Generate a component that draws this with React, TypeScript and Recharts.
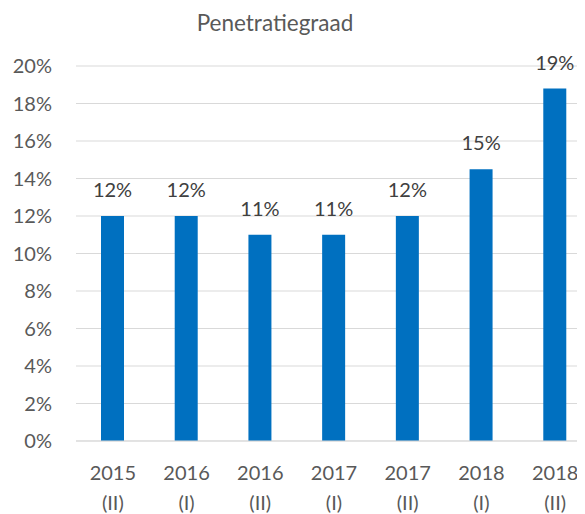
import { BarChart, Bar, XAxis, YAxis, CartesianGrid, LabelList } from 'recharts'

const years = ['2015', '2016', '2016', '2017', '2017', '2018', '2018']
const halves = ['(II)', '(I)', '(II)', '(I)', '(II)', '(I)', '(II)']
const penetration = [12, 12, 11, 11, 12, 14.5, 18.8]
const yTicks = [0, 2, 4, 6, 8, 10, 12, 14, 16, 18, 20]

const chartData = years.map((year, i) => ({
  name: `${year} ${halves[i]}`,
  year,
  half: halves[i],
  value: penetration[i],
}))

const font = 'Lato, "Open Sans", sans-serif'
const textColor = '#595959'

function TwoLineTick({ x, y, index }: any) {
  return (
    <text x={x} y={y} textAnchor="middle" fill={textColor} fontSize={20} fontFamily={font}>
      <tspan x={x} dy={37}>{years[index]}</tspan>
      <tspan x={x} dy={30}>{halves[index]}</tspan>
    </text>
  )
}

function TopLabel({ x, y, width, value }: any) {
  return (
    <text
      x={x + width / 2}
      y={y - 19}
      textAnchor="middle"
      fill="#404040"
      fontSize={20}
      fontFamily={font}
    >
      {Math.round(value)}%
    </text>
  )
}

export default function App() {
  return (
    <div style={{ position: 'relative', width: 577, height: 506, overflow: 'visible' }}>
      <div
        style={{
          position: 'absolute',
          left: 0,
          top: 1,
          width: 534,
          textAlign: 'center',
          fontFamily: font,
          fontSize: 22.5,
          color: textColor,
        }}
      >
        Penetratiegraad
      </div>
      <BarChart
        width={584}
        height={506}
        data={chartData}
        margin={{ top: 58, right: 0, bottom: 0, left: 0 }}
      >
        <CartesianGrid vertical={false} stroke="#D9D9D9" />
        <XAxis
          dataKey="name"
          interval={0}
          height={73}
          axisLine={{ stroke: '#D9D9D9' }}
          tickLine={false}
          tickSize={0}
          tick={<TwoLineTick />}
        />
        <YAxis
          width={68}
          domain={[0, 20]}
          ticks={yTicks}
          interval={0}
          axisLine={false}
          tickLine={false}
          tickSize={0}
          tickMargin={24}
          tickFormatter={(v: number) => `${v}%`}
          tick={{ fill: textColor, fontSize: 20, fontFamily: font }}
        />
        <Bar dataKey="value" fill="#0070C0" barSize={23} isAnimationActive={false}>
          <LabelList dataKey="value" content={<TopLabel />} />
        </Bar>
      </BarChart>
    </div>
  )
}
